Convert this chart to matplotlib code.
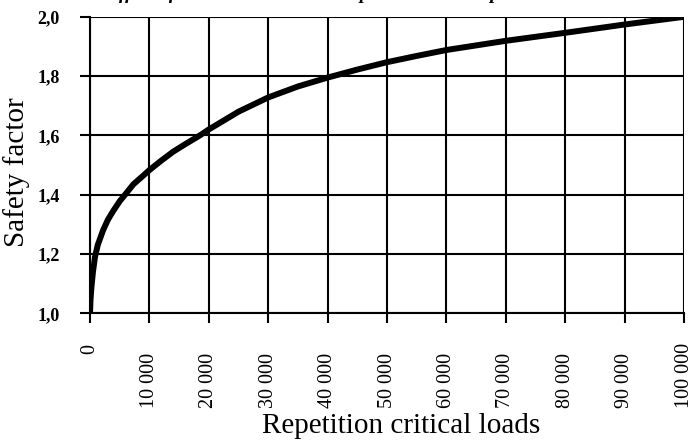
import matplotlib.pyplot as plt
from matplotlib.transforms import ScaledTranslation

# safety factor against the number of repeated critical loads
loads = [0, 100, 250, 500, 840, 1300, 2200, 3000, 3900, 5000, 5900, 7300, 9000,
         10000, 12000, 14000, 16000, 18500, 20000, 25000, 30000, 35000, 40000,
         45000, 50000, 55000, 60000, 70000, 80000, 90000, 100000]
safety = [1.0, 1.05, 1.09, 1.14, 1.19, 1.23, 1.28, 1.315, 1.345, 1.378, 1.40, 1.435, 1.465,
          1.483, 1.515, 1.545, 1.57, 1.60, 1.62, 1.68, 1.728, 1.765, 1.795,
          1.822, 1.847, 1.868, 1.888, 1.919, 1.946, 1.974, 2.0]

xticks = [0, 10000, 20000, 30000, 40000, 50000, 60000, 70000, 80000, 90000, 100000]
xtick_labels = ['0', '10 000', '20 000', '30 000', '40 000', '50 000',
                '60 000', '70 000', '80 000', '90 000', '100 000']
yticks = [1.0, 1.2, 1.4, 1.6, 1.8, 2.0]
ytick_labels = ['1,0', '1,2', '1,4', '1,6', '1,8', '2,0']

title = 'Effect of the critical loads on repetition and the permissible'

plt.rcParams['font.family'] = ['Liberation Serif', 'DejaVu Serif']

fig = plt.figure(figsize=(6.9, 4.44), dpi=100)
ax = fig.add_axes([90 / 690, (444 - 313.3) / 444, 594 / 690, 296.5 / 444])

ax.plot(loads, safety, color='black', lw=4.3, solid_capstyle='butt', zorder=3)

ax.set_xlim(0, 100000)
ax.set_ylim(1.0, 2.0)
ax.grid(True, color='black', lw=1.5)
for s in ax.spines.values():
    s.set_linewidth(1.5)
ax.spines['top'].set_visible(False)
ax.spines['right'].set_visible(False)

ax.set_yticks(yticks, labels=ytick_labels, fontsize=13, fontweight='bold')
ax.tick_params(axis='y', direction='out', length=7, width=1.5, pad=15)

ax.set_xticks(xticks, labels=xtick_labels, rotation=90, fontsize=14.5)
ax.tick_params(axis='x', direction='out', length=7, width=1.5, pad=0)

# numbers sit with their ends on a common line, the zero stays up top
for i, lbl in enumerate(ax.get_xticklabels()):
    if i == 0:
        lbl.set_va('top')
        off = ScaledTranslation(0, -15 / 72, fig.dpi_scale_trans)
    else:
        lbl.set_va('bottom')
        off = ScaledTranslation(0, -61 / 72, fig.dpi_scale_trans)
    lbl.set_transform(lbl.get_transform() + off)

ax.set_xlabel('Repetition critical loads', fontsize=21)
ax.xaxis.set_label_coords(0.524, -0.335)
ax.set_ylabel('Safety factor', fontsize=21)
ax.yaxis.set_label_coords(-0.101, 0.477)

fig.text(106 / 690, 1 + 1 / 444, title, fontsize=14, fontweight='bold',
         fontstyle='italic', va='baseline', ha='left')

fig.savefig('out.png', dpi=100)
